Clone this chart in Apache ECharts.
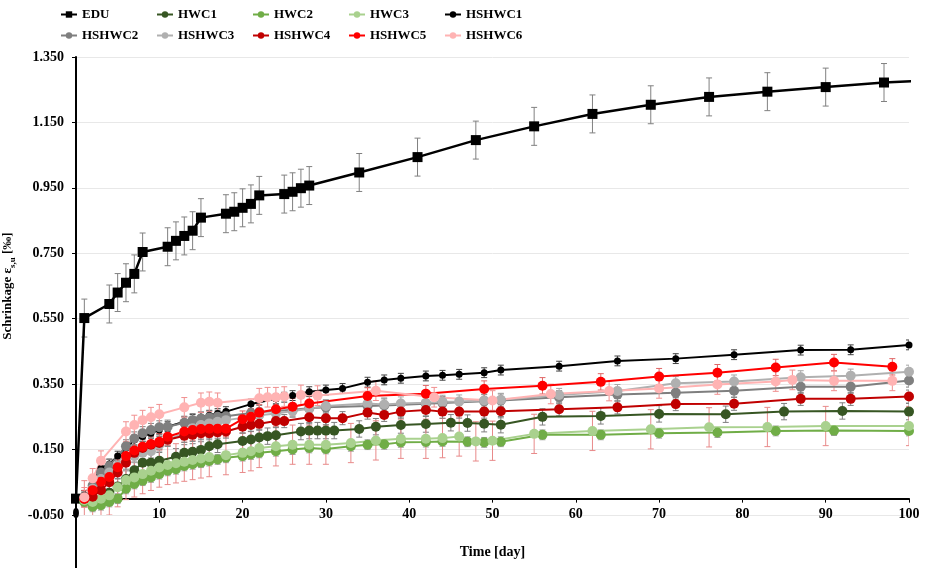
<!DOCTYPE html>
<html>
<head>
<meta charset="utf-8">
<script src="https://cdn.jsdelivr.net/npm/echarts@6/dist/echarts.min.js"></script>
<style>
html, body { margin: 0; padding: 0; background: #fff; }
#chartmain { width: 931px; height: 568px; }
</style>
</head>
<body>
<div id="chartmain"></div>
<script>
var eduDays = [0, 1, 4, 5, 6, 7, 8, 11, 12, 13, 14, 15, 18, 19, 20, 21, 22, 25, 26, 27, 28, 34, 41, 48, 55, 62, 69, 76, 83, 90, 97, 104];
var eduVals = [0, 0.552, 0.595, 0.63, 0.66, 0.687, 0.754, 0.77, 0.788, 0.803, 0.819, 0.859, 0.871, 0.877, 0.889, 0.901, 0.927, 0.931, 0.938, 0.949, 0.957, 0.997, 1.044, 1.096, 1.138, 1.176, 1.204, 1.228, 1.244, 1.258, 1.272, 1.28];

var hwc1Days = [1, 3, 4, 5, 6, 7, 8, 9, 10, 12, 13, 14, 15, 16, 17, 20, 21, 22, 23, 24, 27, 28, 29, 30, 31, 34, 36, 39, 42, 45, 47, 49, 51, 56, 63, 70, 78, 85, 92, 100];
var hwc1Vals = [0.0, -0.002, 0.018, 0.037, 0.06, 0.087, 0.11, 0.11, 0.116, 0.128, 0.14, 0.143, 0.149, 0.16, 0.166, 0.176, 0.181, 0.187, 0.191, 0.194, 0.205, 0.208, 0.208, 0.208, 0.208, 0.213, 0.22, 0.225, 0.228, 0.232, 0.231, 0.229, 0.226, 0.25, 0.253, 0.259, 0.258, 0.266, 0.268, 0.266];

var hwc2Days = [1, 2, 3, 4, 5, 6, 7, 8, 9, 10, 11, 12, 13, 14, 15, 16, 17, 18, 20, 21, 22, 24, 26, 28, 30, 33, 35, 37, 39, 42, 44, 47, 49, 51, 56, 63, 70, 77, 84, 91, 100];
var hwc2Vals = [-0.01, -0.025, -0.02, -0.01, 0.0, 0.03, 0.045, 0.055, 0.065, 0.075, 0.085, 0.09, 0.1, 0.105, 0.11, 0.115, 0.12, 0.125, 0.13, 0.135, 0.14, 0.145, 0.15, 0.155, 0.152, 0.16, 0.165, 0.166, 0.172, 0.173, 0.175, 0.174, 0.172, 0.174, 0.195, 0.195, 0.2, 0.202, 0.207, 0.208, 0.207];

var hwc3Days = [1, 2, 3, 4, 5, 6, 7, 8, 9, 10, 11, 12, 13, 14, 15, 16, 18, 20, 21, 22, 24, 26, 28, 30, 33, 36, 39, 42, 44, 46, 48, 50, 55, 62, 69, 76, 83, 90, 100];
var hwc3Vals = [-0.005, -0.01, 0.0, 0.01, 0.035, 0.057, 0.065, 0.075, 0.085, 0.095, 0.103, 0.108, 0.113, 0.118, 0.123, 0.127, 0.133, 0.14, 0.145, 0.155, 0.16, 0.165, 0.165, 0.165, 0.17, 0.178, 0.183, 0.183, 0.185, 0.19, 0.175, 0.177, 0.198, 0.207, 0.212, 0.218, 0.219, 0.222, 0.222];

var hs1Days = [1, 2, 3, 4, 5, 6, 7, 8, 9, 10, 11, 13, 14, 15, 16, 17, 18, 21, 24, 25, 26, 28, 30, 32, 35, 37, 39, 42, 44, 46, 49, 51, 58, 65, 72, 79, 87, 93, 100];
var hs1Vals = [0.01, 0.05, 0.093, 0.106, 0.13, 0.155, 0.179, 0.19, 0.2, 0.21, 0.22, 0.235, 0.242, 0.249, 0.255, 0.26, 0.266, 0.289, 0.305, 0.31, 0.315, 0.327, 0.332, 0.337, 0.356, 0.363, 0.368, 0.375, 0.377, 0.38, 0.385, 0.393, 0.405, 0.421, 0.428, 0.44, 0.454, 0.455, 0.47];

var hs2Days = [1, 2, 3, 4, 6, 7, 8, 9, 10, 11, 13, 14, 15, 16, 17, 18, 21, 22, 24, 26, 28, 30, 35, 37, 42, 44, 49, 51, 58, 65, 72, 79, 87, 93, 100];
var hs2Vals = [0.0, 0.04, 0.08, 0.1, 0.16, 0.184, 0.2, 0.21, 0.218, 0.22, 0.232, 0.24, 0.245, 0.248, 0.25, 0.252, 0.262, 0.265, 0.268, 0.272, 0.276, 0.279, 0.283, 0.285, 0.29, 0.292, 0.298, 0.3, 0.31, 0.318, 0.324, 0.33, 0.342, 0.342, 0.361];

var hs3Days = [1, 2, 3, 4, 5, 6, 7, 8, 9, 10, 11, 13, 14, 15, 16, 17, 18, 21, 22, 24, 26, 28, 30, 35, 37, 39, 42, 44, 46, 49, 51, 58, 65, 72, 79, 87, 93, 100];
var hs3Vals = [0.0, 0.03, 0.06, 0.08, 0.1, 0.12, 0.13, 0.14, 0.145, 0.165, 0.18, 0.2, 0.215, 0.225, 0.23, 0.235, 0.24, 0.25, 0.255, 0.26, 0.268, 0.275, 0.283, 0.291, 0.288, 0.291, 0.293, 0.296, 0.297, 0.3, 0.302, 0.317, 0.329, 0.353, 0.358, 0.371, 0.376, 0.388];

var hs4Days = [1, 2, 3, 4, 5, 6, 7, 8, 9, 10, 11, 13, 14, 15, 16, 17, 18, 20, 21, 22, 24, 25, 28, 30, 32, 35, 37, 39, 42, 44, 46, 49, 51, 58, 65, 72, 79, 87, 93, 100];
var hs4Vals = [0.0, 0.006, 0.026, 0.05, 0.08, 0.11, 0.14, 0.155, 0.165, 0.17, 0.18, 0.192, 0.195, 0.2, 0.2, 0.203, 0.205, 0.22, 0.225, 0.229, 0.237, 0.237, 0.249, 0.246, 0.246, 0.263, 0.256, 0.266, 0.271, 0.266, 0.266, 0.266, 0.267, 0.273, 0.279, 0.289, 0.29, 0.305, 0.305, 0.312];

var hs5Days = [1, 2, 3, 4, 5, 6, 7, 8, 9, 10, 11, 13, 14, 15, 16, 17, 18, 20, 21, 22, 24, 26, 28, 35, 42, 49, 56, 63, 70, 77, 84, 91, 98];
var hs5Vals = [0.0, 0.026, 0.052, 0.066, 0.096, 0.13, 0.147, 0.159, 0.167, 0.174, 0.189, 0.205, 0.21, 0.213, 0.214, 0.214, 0.214, 0.243, 0.25, 0.263, 0.273, 0.281, 0.291, 0.314, 0.321, 0.335, 0.345, 0.357, 0.373, 0.385, 0.401, 0.416, 0.403];

var hs6Days = [1, 2, 3, 6, 7, 8, 9, 10, 13, 15, 16, 17, 22, 23, 24, 25, 27, 29, 36, 43, 50, 57, 64, 70, 77, 84, 86, 91, 98];
var hs6Vals = [0.004, 0.062, 0.116, 0.205, 0.225, 0.24, 0.249, 0.258, 0.279, 0.293, 0.296, 0.293, 0.307, 0.31, 0.31, 0.312, 0.317, 0.315, 0.33, 0.31, 0.30, 0.32, 0.329, 0.337, 0.349, 0.358, 0.363, 0.36, 0.36];

var names = ['EDU', 'HWC1', 'HWC2', 'HWC3', 'HSHWC1', 'HSHWC2', 'HSHWC3', 'HSHWC4', 'HSHWC5', 'HSHWC6'];
var errSize = [0.058, 0.025, 0.015, 0.06, 0.015, 0.02, 0.02, 0.02, 0.025, 0.03];

var allDays = [eduDays, hwc1Days, hwc2Days, hwc3Days, hs1Days, hs2Days, hs3Days, hs4Days, hs5Days, hs6Days];
var allVals = [eduVals, hwc1Vals, hwc2Vals, hwc3Vals, hs1Vals, hs2Vals, hs3Vals, hs4Vals, hs5Vals, hs6Vals];

var colors = ['#000000', '#375623', '#70ad47', '#a9d18e', '#000000', '#7f7f7f', '#b0b0b0', '#c00000', '#ff0000', '#ffb3b3'];
var errColors = ['#808080', '#7f7f7f', '#a0a0a0', '#e88a8a', '#404040', '#808080', '#a6a6a6', '#808080', '#e06666', '#f08f8f'];

var font = '"Liberation Serif", "Times New Roman", serif';

function errBar(color) {
	return function (params, api) {
		var x = api.value(0), y = api.value(1), e = api.value(2);
		if (!e) return null;
		var hi = api.coord([x, y + e]);
		var lo = api.coord([x, y - e]);
		var st = { stroke: color, lineWidth: 1 };
		return {
			type : 'group',
			children : [
				{ type : 'line', shape : { x1 : hi[0], y1 : hi[1], x2 : lo[0], y2 : lo[1] }, style : st },
				{ type : 'line', shape : { x1 : hi[0] - 3, y1 : hi[1], x2 : hi[0] + 3, y2 : hi[1] }, style : st },
				{ type : 'line', shape : { x1 : lo[0] - 3, y1 : lo[1], x2 : lo[0] + 3, y2 : lo[1] }, style : st }
			]
		};
	};
}

var series = [];
var legends = [];
names.forEach(function (n, k) {
	var days = allDays[k], vals = allVals[k];
	series.push({
		name : n + ' err',
		type : 'custom',
		renderItem : errBar(errColors[k]),
		data : days.map(function (d, i) { return [d, vals[i], d === 0 ? 0 : errSize[k]]; }),
		clip : true,
		silent : true,
		z : 1
	});
	series.push({
		name : n,
		type : 'line',
		data : days.map(function (d, i) { return [d, vals[i]]; }),
		symbol : k === 0 ? 'rect' : 'circle',
		symbolSize : k === 0 ? 10 : (k === 4 ? 7 : 10),
		showAllSymbol : true,
		lineStyle : { color : colors[k], width : k === 0 ? 2.5 : 2 },
		itemStyle : { color : colors[k] },
		clip : true,
		z : 2
	});
	legends.push({
		data : [n],
		left : 60 + (k % 5) * 96,
		top : 8 + Math.floor(k / 5) * 21,
		padding : 0,
		itemWidth : 16,
		itemHeight : 8,
		textStyle : { fontFamily : font, fontWeight : 'bold', fontSize : 13, color : '#000' }
	});
});

var option = {
	animation : false,
	legend : legends,
	grid : [
		{ left : 76, right : 22, top : 57, bottom : 53, containLabel : false, outerBoundsMode : 'none' },
		{ left : 76, right : 22, top : 515, bottom : 0, containLabel : false, outerBoundsMode : 'none' }
	],
	xAxis : [{
		type : 'value',
		min : 0,
		max : 100,
		interval : 10,
		name : 'Time [day]',
		nameLocation : 'middle',
		nameGap : 30,
		nameTextStyle : { fontFamily : font, fontWeight : 'bold', fontSize : 14, color : '#000' },
		axisLine : { onZero : true, lineStyle : { color : '#000', width : 2 } },
		axisTick : { show : true, length : 4, lineStyle : { color : '#000' } },
		axisLabel : { margin : -8, fontFamily : font, fontWeight : 'bold', fontSize : 14, color : '#000' },
		splitLine : { show : false }
	}, {
		gridIndex : 1,
		type : 'value',
		min : 0,
		max : 1,
		show : false
	}],
	yAxis : [{
		type : 'value',
		min : -0.05,
		max : 1.35,
		interval : 0.2,
		name : '{a|Schrinkage ε}{b|s,u}{a| [‰]}',
		nameLocation : 'middle',
		nameGap : 58,
		nameTextStyle : {
			rich : {
				a : { fontFamily : font, fontWeight : 'bold', fontSize : 13, color : '#000', lineHeight : 18 },
				b : { fontFamily : font, fontWeight : 'bold', fontSize : 9, color : '#000', lineHeight : 18, verticalAlign : 'bottom' }
			}
		},
		axisLine : { show : true, onZero : false, lineStyle : { color : '#000', width : 2 } },
		axisTick : { show : true, length : 4, lineStyle : { color : '#000' } },
		axisLabel : {
			margin : 12,
			fontFamily : font,
			fontWeight : 'bold',
			fontSize : 14,
			color : '#000',
			formatter : function (v) { return v.toFixed(3); }
		},
		splitLine : { show : true, lineStyle : { color : '#e8e8e8', width : 1 } }
	}, {
		gridIndex : 1,
		type : 'value',
		min : 0,
		max : 1,
		axisLine : { show : true, onZero : false, lineStyle : { color : '#000', width : 2 } },
		axisTick : { show : false },
		axisLabel : { show : false },
		splitLine : { show : false }
	}],
	series : series
};

var myChart = echarts.init(document.getElementById('chartmain'));
myChart.setOption(option);
</script>
</body>
</html>
